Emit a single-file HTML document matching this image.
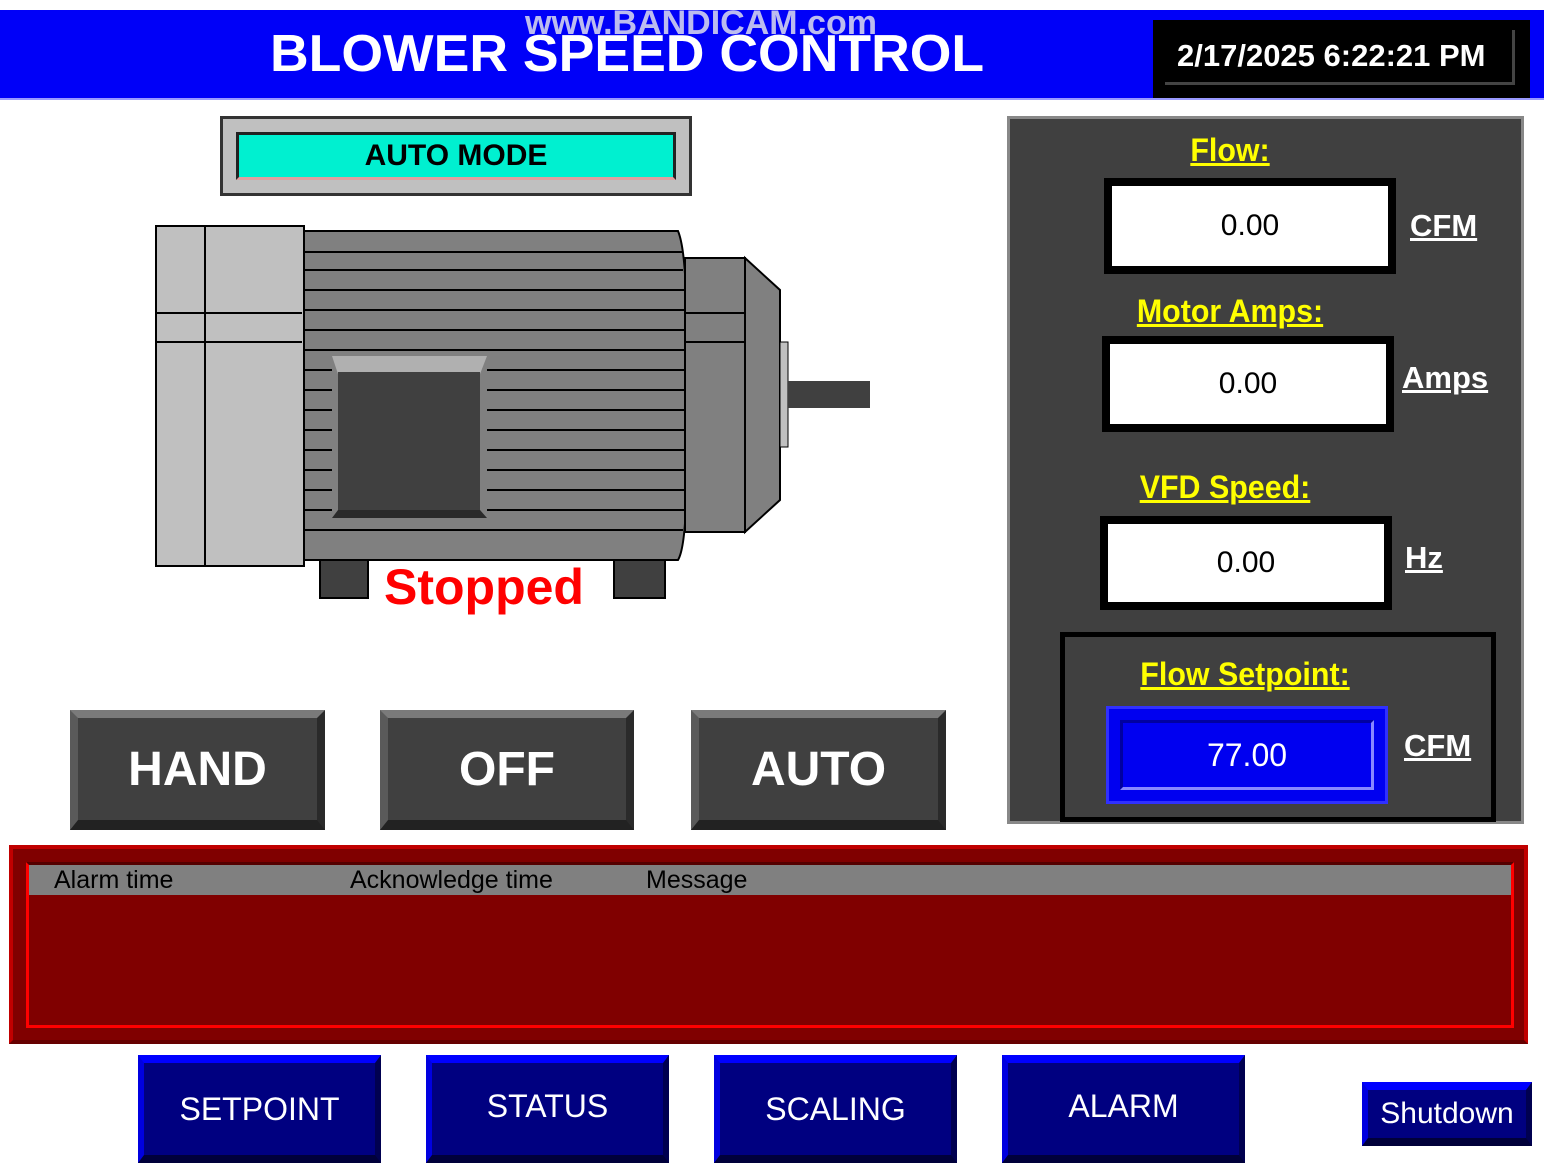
<!DOCTYPE html>
<html><head><meta charset="utf-8"><style>
body{margin:0;width:1544px;height:1170px;background:#fff;position:relative;overflow:hidden;font-family:"Liberation Sans",sans-serif}
.a{position:absolute;box-sizing:border-box}
.t{position:absolute;white-space:nowrap}
.lab{color:#ff0;font-weight:bold;text-decoration:underline;font-size:32px;text-align:center;transform:scaleX(.95)}
.val{background:#fff;border:8px solid #000;font-size:30px;display:flex;align-items:center;justify-content:center}
.unit{color:#fff;font-weight:bold;text-decoration:underline;font-size:31px;transform-origin:left}
.gb{background:#404040;border-top:8px solid #7a7a7a;border-left:8px solid #5a5a5a;border-right:8px solid #2a2a2a;border-bottom:10px solid #222;color:#fff;font-weight:bold;font-size:48px;display:flex;align-items:center;justify-content:center}
.bb{background:#000080;border-top:8px solid #0000ff;border-left:6px solid #0000e0;border-right:6px solid #000050;border-bottom:8px solid #00003a;color:#fff;font-size:32px;display:flex;align-items:center;justify-content:center}
</style></head><body>
<div class="a" style="left:0;top:10px;width:1544px;height:90px;background:#0000f8;border-bottom:2px solid #99f"></div>
<div class="t" style="left:270px;top:24px;color:#fff;font-weight:bold;font-size:52px;transform:scaleX(1.03);transform-origin:left">BLOWER SPEED CONTROL</div>
<div class="t" style="left:525px;top:4px;color:#dde;font-weight:bold;font-size:34px;opacity:.85">www.BANDICAM.com</div>
<div class="a" style="left:1153px;top:20px;width:377px;height:78px;background:#000"></div>
<div class="a" style="left:1165px;top:30px;width:350px;height:55px;border-right:3px solid #444;border-bottom:3px solid #444"></div>
<div class="t" style="left:1177px;top:38px;color:#fff;font-weight:bold;font-size:31px">2/17/2025 6:22:21 PM</div>

<div class="a" style="left:220px;top:116px;width:472px;height:80px;background:#c0c0c0;border:3px solid #333"></div>
<div class="a" style="left:236px;top:132px;width:440px;height:48px;background:#00f0d0;border:3px solid #222;border-bottom-color:#e0a0a0;display:flex;align-items:center;justify-content:center;font-size:30px;font-weight:bold">AUTO MODE</div>

<svg class="a" style="left:0;top:0" width="1000" height="640">
<rect x="156" y="226" width="148" height="340" fill="#c0c0c0" stroke="#000" stroke-width="2"/>
<line x1="205" y1="226" x2="205" y2="566" stroke="#000" stroke-width="2"/>
<line x1="156" y1="313" x2="302" y2="313" stroke="#000" stroke-width="2"/>
<line x1="156" y1="342" x2="302" y2="342" stroke="#000" stroke-width="2"/>
<path d="M304 231 H678 Q690 260 685 400 Q690 540 678 560 H304 Z" fill="#808080" stroke="#000" stroke-width="2"/>
<g stroke="#000" stroke-width="2">
<line x1="304" y1="252" x2="682" y2="252"/><line x1="304" y1="270" x2="683" y2="270"/><line x1="304" y1="290" x2="684" y2="290"/><line x1="304" y1="310" x2="685" y2="310"/><line x1="304" y1="330" x2="685" y2="330"/><line x1="304" y1="350" x2="685" y2="350"/><line x1="304" y1="370" x2="685" y2="370"/><line x1="304" y1="390" x2="685" y2="390"/><line x1="304" y1="410" x2="685" y2="410"/><line x1="304" y1="430" x2="685" y2="430"/><line x1="304" y1="450" x2="685" y2="450"/><line x1="304" y1="470" x2="685" y2="470"/><line x1="304" y1="490" x2="684" y2="490"/><line x1="304" y1="510" x2="684" y2="510"/><line x1="304" y1="530" x2="683" y2="530"/></g>
<rect x="332" y="356" width="155" height="162" fill="#808080"/>
<polygon points="332,356 487,356 480,374 338,374" fill="#b0b0b0"/>
<rect x="338" y="372" width="142" height="140" fill="#404040"/>
<polygon points="332,518 487,518 480,510 338,510" fill="#2a2a2a"/>
<rect x="685" y="258" width="60" height="274" fill="#808080" stroke="#000" stroke-width="2"/>
<line x1="685" y1="313" x2="745" y2="313" stroke="#000" stroke-width="2"/>
<line x1="685" y1="342" x2="745" y2="342" stroke="#000" stroke-width="2"/>
<polygon points="745,258 780,290 780,500 745,532" fill="#808080" stroke="#000" stroke-width="2"/>
<rect x="780" y="342" width="8" height="105" fill="#c0c0c0" stroke="#000"/>
<rect x="788" y="381" width="82" height="27" fill="#404040"/>
<rect x="320" y="560" width="48" height="38" fill="#404040" stroke="#000" stroke-width="2"/>
<rect x="614" y="560" width="51" height="38" fill="#404040" stroke="#000" stroke-width="2"/>
</svg>
<div class="t" style="left:384px;top:558px;color:#f00;font-weight:bold;font-size:50px">Stopped</div>

<div class="a" style="left:1007px;top:116px;width:517px;height:708px;background:#404040;border:3px solid #888"></div>
<div class="t lab" style="left:1130px;top:132px;width:200px">Flow:</div>
<div class="a val" style="left:1104px;top:178px;width:292px;height:96px">0.00</div>
<div class="t unit" style="left:1410px;top:208px">CFM</div>
<div class="t lab" style="left:1110px;top:293px;width:240px">Motor Amps:</div>
<div class="a val" style="left:1102px;top:336px;width:292px;height:96px">0.00</div>
<div class="t unit" style="left:1402px;top:360px">Amps</div>
<div class="t lab" style="left:1110px;top:469px;width:230px">VFD Speed:</div>
<div class="a val" style="left:1100px;top:516px;width:292px;height:94px">0.00</div>
<div class="t unit" style="left:1405px;top:540px">Hz</div>
<div class="a" style="left:1060px;top:632px;width:436px;height:190px;border:5px solid #000"></div>
<div class="t lab" style="left:1120px;top:656px;width:250px">Flow Setpoint:</div>
<div class="a" style="left:1106px;top:706px;width:282px;height:98px;background:#0000f0;border:3px solid #3030ff"></div>
<div class="a" style="left:1120px;top:720px;width:254px;height:70px;border-top:3px solid #0000a0;border-left:3px solid #0000a0;border-bottom:3px solid #8888ff;border-right:3px solid #8888ff;color:#fff;font-size:32px;display:flex;align-items:center;justify-content:center">77.00</div>
<div class="t unit" style="left:1404px;top:728px">CFM</div>

<div class="a gb" style="left:70px;top:710px;width:255px;height:120px">HAND</div>
<div class="a gb" style="left:380px;top:710px;width:254px;height:120px">OFF</div>
<div class="a gb" style="left:691px;top:710px;width:255px;height:120px">AUTO</div>

<div class="a" style="left:9px;top:845px;width:1519px;height:199px;background:#800000;border:4px solid #c00000;border-bottom-color:#600"></div>
<div class="a" style="left:26px;top:862px;width:1488px;height:166px;border:3px solid #f00;border-top-color:#500"></div>
<div class="a" style="left:29px;top:865px;width:1482px;height:30px;background:#808080"></div>
<div class="t" style="left:54px;top:866px;font-size:25px;color:#000">Alarm time</div>
<div class="t" style="left:350px;top:866px;font-size:25px;color:#000">Acknowledge time</div>
<div class="t" style="left:646px;top:866px;font-size:25px;color:#000">Message</div>

<div class="a bb" style="left:138px;top:1055px;width:243px;height:108px">SETPOINT</div>
<div class="a bb" style="left:426px;top:1055px;width:243px;height:108px;padding-bottom:6px">STATUS</div>
<div class="a bb" style="left:714px;top:1055px;width:243px;height:108px">SCALING</div>
<div class="a bb" style="left:1002px;top:1055px;width:243px;height:108px;padding-bottom:6px">ALARM</div>
<div class="a bb" style="left:1362px;top:1082px;width:170px;height:64px;font-size:30px">Shutdown</div>
</body></html>
